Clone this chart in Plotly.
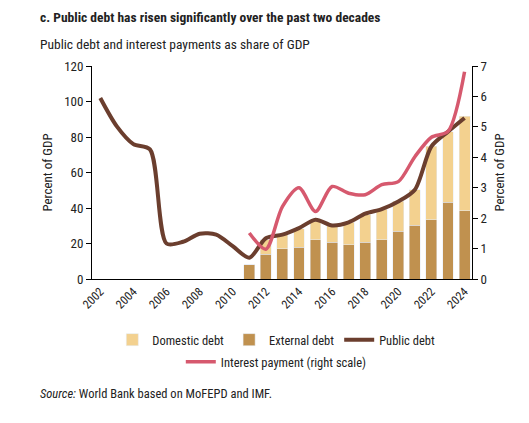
import plotly.graph_objects as go

years_all = list(range(2002, 2025))
public_debt = [102, 86, 76, 73, 20, 21, 25.5, 25, 18.5, 12, 23, 25, 28.7, 33.4, 30.2, 31.9,
               36.8, 39.4, 43.7, 50.3, 74.7, 83, 90.7]

bar_years = list(range(2011, 2025))
external_debt = [8, 13.9, 17, 17.8, 22.1, 20.6, 19.3, 20.6, 22.1, 26.8, 30.2, 33.4, 43.2, 38.5]
total_debt = [8, 22, 25, 28.3, 32.5, 30.2, 31.9, 36.2, 39.4, 43.7, 50.3, 74.7, 83, 91.6]
domestic_debt = [round(t - e, 1) for t, e in zip(total_debt, external_debt)]

interest_years = list(range(2011, 2025))
interest = [1.51, 0.98, 2.38, 3.0, 2.22, 3.04, 2.82, 2.77, 3.1, 3.2, 4.02, 4.66, 4.85, 6.81]

tick_years = list(range(2002, 2025, 2))

C_DOM = "#F3D18F"
C_EXT = "#C0914F"
C_PUB = "#6B3E2E"
C_INT = "#D6596E"
FONT = "Liberation Sans Narrow, Roboto Condensed, Arial Narrow, Roboto, sans-serif"

fig = go.Figure()
fig.add_trace(go.Bar(x=bar_years, y=external_debt, name="External debt", marker_color=C_EXT,
                     legendrank=2, legend="legend"))
fig.add_trace(go.Bar(x=bar_years, y=domestic_debt, name="Domestic debt", marker_color=C_DOM,
                     legendrank=1, legend="legend"))
fig.add_trace(go.Scatter(x=years_all, y=public_debt, name="Public debt", mode="lines",
                         line=dict(color=C_PUB, width=4, shape="spline", smoothing=0.8),
                         legendrank=3, legend="legend"))
fig.add_trace(go.Scatter(x=interest_years, y=interest, name="Interest payment (right scale)",
                         mode="lines", yaxis="y2",
                         line=dict(color=C_INT, width=3.5, shape="spline", smoothing=0.8),
                         legend="legend2"))

L, R, T, B = 92, 472, 66, 279
W, H = 529, 423


def px(x):
    return (x - L) / (R - L)


def py(y):
    return (B - y) / (B - T)


fig.update_layout(
    width=W, height=H,
    margin=dict(l=L, r=W - R, t=T, b=H - B, pad=0),
    paper_bgcolor="white", plot_bgcolor="white",
    font=dict(family=FONT, size=12, color="#222"),
    barmode="stack", bargap=0.34,
    showlegend=True,
    legend=dict(orientation="h", x=0.485, xanchor="center", y=py(340), yanchor="middle",
                traceorder="normal",
                font=dict(size=12.5), itemwidth=30, tracegroupgap=0, bgcolor="rgba(0,0,0,0)"),
    legend2=dict(orientation="h", x=0.485, xanchor="center", y=py(362), yanchor="middle",
                 font=dict(size=12.5), itemwidth=30, bgcolor="rgba(0,0,0,0)"),
    xaxis=dict(range=[2001.5, 2024.45], tickvals=tick_years, ticktext=[str(y) for y in tick_years],
               tickangle=-45, showgrid=False, showline=True, linecolor="black", linewidth=1,
               ticks="", zeroline=False, tickfont=dict(size=12)),
    yaxis=dict(range=[0, 120], dtick=20, showgrid=False, showline=True, linecolor="black",
               linewidth=1, ticks="outside", ticklen=5, tickcolor="black", zeroline=False,
               title=dict(text="Percent of GDP", font=dict(size=13), standoff=8),
               tickfont=dict(size=13)),
    yaxis2=dict(range=[0, 7], dtick=1, overlaying="y", side="right", showgrid=False,
                showline=True, linecolor="black", linewidth=1, ticks="outside", ticklen=5,
                tickcolor="black", zeroline=False,
                title=dict(text="Percent of GDP", font=dict(size=13), standoff=8),
                tickfont=dict(size=13)),
    annotations=[
        dict(text="<b>c. Public debt has risen significantly over the past two decades</b>",
             xref="paper", yref="paper", x=px(38), y=py(17), xanchor="left", yanchor="middle",
             showarrow=False, font=dict(size=13.5, color="#222")),
        dict(text="Public debt and interest payments as share of GDP",
             xref="paper", yref="paper", x=px(38), y=py(44), xanchor="left", yanchor="middle",
             showarrow=False, font=dict(size=13.5, color="#222")),
        dict(text="<i>Source:</i> World Bank based on MoFEPD and IMF.",
             xref="paper", yref="paper", x=px(38), y=py(393), xanchor="left", yanchor="middle",
             showarrow=False, font=dict(size=12.5, color="#222")),
    ],
)

fig.write_html("out.html")
